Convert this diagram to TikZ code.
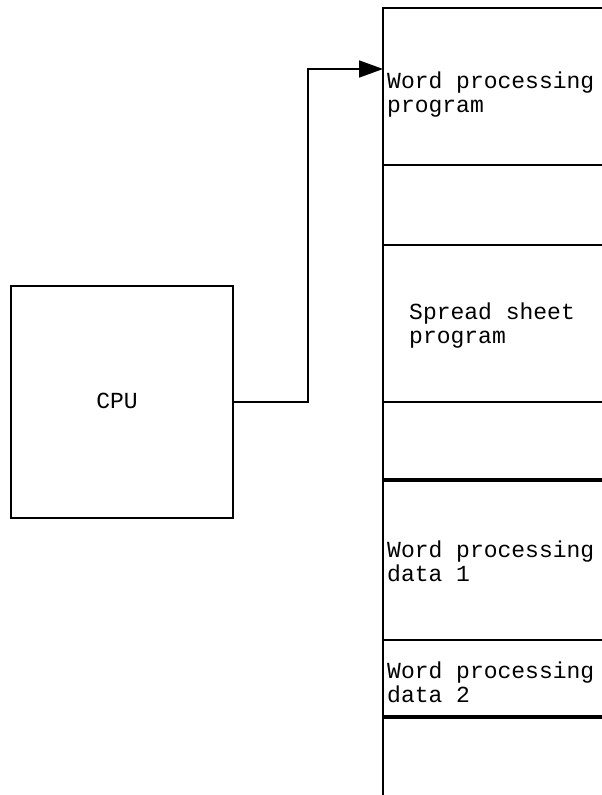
\documentclass[tikz,border=0pt]{standalone}
\usepackage{fontspec}
\setmonofont{Liberation Mono}
\usetikzlibrary{arrows.meta}
\begin{document}
\begin{tikzpicture}[x=1pt,y=-1pt,
  rule/.style={line width=1.8pt},
  heavyrule/.style={line width=4pt},
  cpubox/.style={draw, line width=1.8pt, inner sep=0pt,
    minimum width=222pt, minimum height=232pt},
  celltext/.style={font=\ttfamily\fontsize{23}{24}\selectfont,
    align=left, anchor=north west, inner sep=0pt},
  cputext/.style={font=\ttfamily\fontsize{23}{24}\selectfont, inner sep=0pt},
  link/.style={rule, -{Triangle[length=24pt,width=17pt]}}
]
\useasboundingbox (0,0) rectangle (602,795);

% processor
\node[cpubox] (cpu) at (122,402) {};
\node[cputext] (cpulabel) at (117,401) {CPU};

% memory column, open to the right and at the bottom
\draw[rule] (383,800) -- (383,8) -- (610,8);
\foreach \y in {165,245,402,640}
  \draw[rule] (383,\y) -- (610,\y);
\foreach \y in {480,717}
  \draw[heavyrule] (383,\y) -- (610,\y);

% contents of the memory cells
\node[celltext] (wpprog) at (387,72) {Word processing\\program};
\node[celltext] (ssprog) at (409,303) {Spread sheet\\program};
\node[celltext] (wpdata1) at (387,541) {Word processing\\data 1};
\node[celltext] (wpdata2) at (387,662) {Word processing\\data 2};

% bus from the processor to the program cell
\coordinate (bend) at (308,69);
\coordinate (mem) at (383,69);
\draw[link] (cpu.east) -| (bend) -- (mem);
\end{tikzpicture}
\end{document}
